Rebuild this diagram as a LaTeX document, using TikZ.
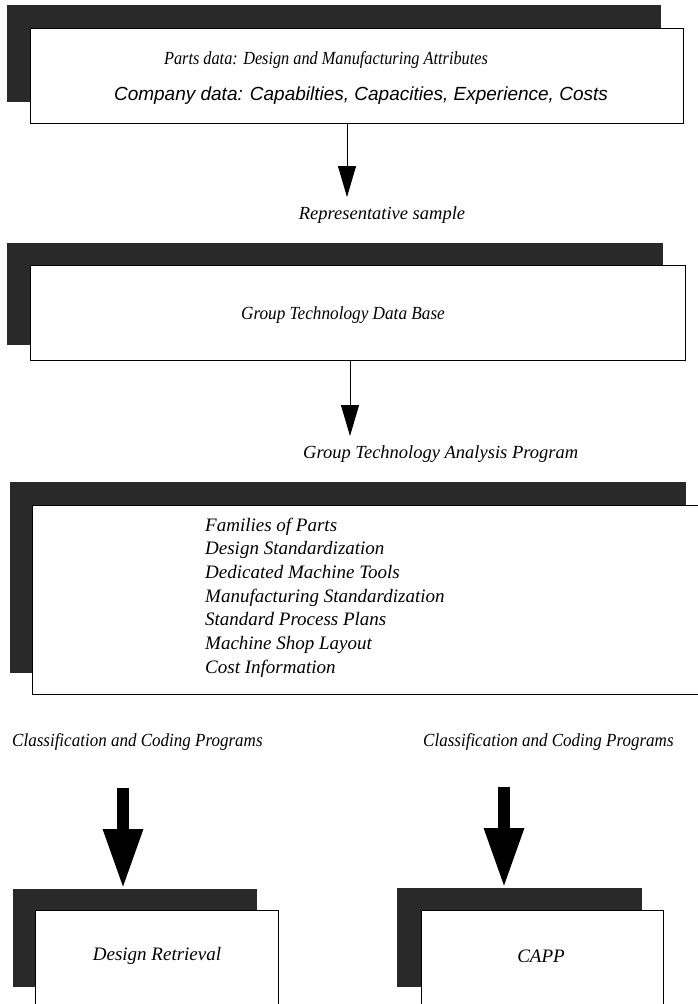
\documentclass[tikz,border=0pt]{standalone}
\usepackage{fontspec}
\usepackage{graphicx}
\setmainfont{Liberation Serif}
\setsansfont{Liberation Sans}
\usetikzlibrary{arrows.meta}
\newcommand{\hsquash}[2]{\scalebox{#1}[1]{#2}}
\begin{document}
\begin{tikzpicture}[x=1pt,y=-1pt,
  shadowfill/.style={fill=black!84, draw=none},
  frontbox/.style={fill=white, draw=black, line width=0.9pt, inner sep=0pt, anchor=north west},
  serifit/.style={font=\fontsize{18.5}{22}\selectfont\itshape, inner sep=0pt},
  sansit/.style={font=\fontsize{19}{22}\selectfont\sffamily\itshape, inner sep=0pt},
  thinarrow/.style={line width=0.9pt, -{Triangle[width=18pt,length=31pt]}},
  thickarrow/.style={line width=12pt, -{Triangle[width=37pt,length=60pt]}},
]
\useasboundingbox (0,0) rectangle (698,1004);
\fill[white] (0,0) rectangle (698,1004);

% Box 1
\fill[shadowfill] (7,5) rectangle (661,102);
\node[frontbox, minimum width=653pt, minimum height=95pt] (box1) at (30,28) {};
\node[serifit] (t1a) at (326,60) {\hsquash{0.88}{Parts data: Design and Manufacturing Attributes}};
\node[sansit] (t1b) at (361,96) {Company data: Capabilties, Capacities, Experience, Costs};

% Arrow 1
\coordinate (a1start) at (box1.south -| 347,0);
\coordinate (a1end) at (347,197);
\draw[thinarrow] (a1start) -- (a1end);
\node[serifit] (rep) at (382,215) {Representative sample};

% Box 2
\fill[shadowfill] (7,243) rectangle (663,345);
\node[frontbox, minimum width=655pt, minimum height=95pt] (box2) at (30,265) {};
\node[serifit] (t2) at (343,315) {\hsquash{0.93}{Group Technology Data Base}};

% Arrow 2
\coordinate (a2start) at (box2.south -| 350,0);
\coordinate (a2end) at (350,436);
\draw[thinarrow] (a2start) -- (a2end);
\node[serifit, anchor=west] (gta) at (303,454) {Group Technology Analysis Program};

% Box 3
\fill[shadowfill] (10,482) rectangle (686,673);
\node[frontbox, minimum width=690pt, minimum height=189pt] (box3) at (32,505) {};
\foreach \i/\t in {0/Families of Parts, 1/Design Standardization, 2/Dedicated Machine Tools,
  3/Manufacturing Standardization, 4/Standard Process Plans, 5/Machine Shop Layout, 6/Cost Information} {
  \node[serifit, font=\fontsize{19}{22}\selectfont\itshape, anchor=base west] (li\i) at (205,{531+23.7*\i}) {\t};
}

% Classification labels
\node[serifit, anchor=west] (cl1) at (12,742) {\hsquash{0.92}{Classification and Coding Programs}};
\node[serifit, anchor=west] (cl2) at (423,742) {\hsquash{0.92}{Classification and Coding Programs}};

% Bottom left box
\fill[shadowfill] (13,889) rectangle (257,987);
\node[frontbox, minimum width=243pt, minimum height=110pt] (box4) at (35,910) {};
\node[serifit, font=\fontsize{19}{22}\selectfont\itshape] (t4) at (157,956) {Design Retrieval};

% Bottom right box
\fill[shadowfill] (397,888) rectangle (642,987);
\node[frontbox, minimum width=242pt, minimum height=110pt] (box5) at (421,910) {};
\node[serifit, font=\fontsize{19}{22}\selectfont\itshape] (t5) at (541,956) {CAPP};

% Thick arrows
\coordinate (a3start) at (123,788);
\coordinate (a3end) at (123,889);
\draw[thickarrow] (a3start) -- (a3end);
\coordinate (a4start) at (504,787);
\coordinate (a4end) at (504,888);
\draw[thickarrow] (a4start) -- (a4end);
\end{tikzpicture}
\end{document}
